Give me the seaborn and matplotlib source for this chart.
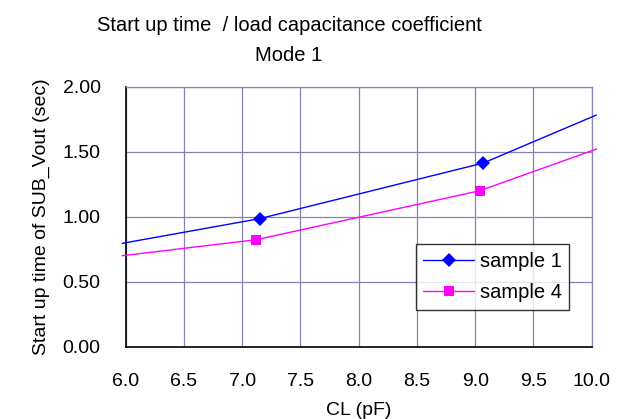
import matplotlib
matplotlib.use("Agg")
import matplotlib.pyplot as plt
import seaborn as sns
import pandas as pd
from matplotlib.lines import Line2D

sns.set_style("white")
plt.rcParams['font.family'] = ['Liberation Sans', 'DejaVu Sans']
plt.rcParams['text.color'] = 'black'
plt.rcParams['xtick.color'] = 'black'
plt.rcParams['ytick.color'] = 'black'
plt.rcParams['axes.labelcolor'] = 'black'

cl_s1 = [5.97, 7.15, 9.07, 10.04]
t_s1 = [0.795, 0.985, 1.413, 1.782]
cl_s4 = [5.97, 7.12, 9.04, 10.04]
t_s4 = [0.70, 0.823, 1.20, 1.52]
series = ["sample 1", "sample 4"]
x_ticks = [6.0, 6.5, 7.0, 7.5, 8.0, 8.5, 9.0, 9.5, 10.0]
y_ticks = [0.0, 0.5, 1.0, 1.5, 2.0]

df = pd.DataFrame({
    "CL": cl_s1 + cl_s4,
    "t": t_s1 + t_s4,
    "series": [series[0]] * len(cl_s1) + [series[1]] * len(cl_s4),
})

colors = {"sample 1": "#0000FF", "sample 4": "#FF00FF"}
markers = {"sample 1": "D", "sample 4": "s"}
msizes = {"sample 1": 7.0, "sample 4": 6.5}

W, H = 629, 419
fig = plt.figure(figsize=(W / 100, H / 100), dpi=100)
ax = fig.add_axes([125.7 / W, 1 - 346.7 / H, 466 / W, 260 / H])

for name in series:
    sub = df[df["series"] == name]
    sns.lineplot(data=sub, x="CL", y="t", ax=ax, color=colors[name], lw=1.0,
                 marker=markers[name], markersize=msizes[name], markevery=[1, 2],
                 markeredgewidth=0, legend=False, sort=True, clip_on=False, zorder=3)

FS = 14
ax.set_xlim(6.0, 10.0)
ax.set_ylim(0.0, 2.0)
ax.set_xticks(x_ticks)
ax.set_yticks(y_ticks)
ax.set_xticklabels([f"{v:.1f}" for v in x_ticks], fontsize=FS)
ax.set_yticklabels([f"{v:.2f}" for v in y_ticks], fontsize=FS)
ax.grid(True, color="#8484B4", lw=0.9)
ax.set_axisbelow(True)
for s in ["top", "right"]:
    ax.spines[s].set_color("#8484B4")
    ax.spines[s].set_linewidth(0.9)
for s in ["left", "bottom"]:
    ax.spines[s].set_color("black")
    ax.spines[s].set_linewidth(1.2)
ax.tick_params(axis="both", direction="in", length=5, color="black", width=1)
ax.tick_params(axis="x", pad=19)
ax.tick_params(axis="y", pad=18)

ax.set_xlabel("CL (pF)", fontsize=FS, labelpad=8.5)
ax.set_ylabel("Start up time of SUB_Vout (sec)", fontsize=FS, labelpad=9)
fig.text(289 / W, 1 - 16 / H, "Start up time  / load capacitance coefficient\nMode 1",
         ha="center", va="top", fontsize=14.5, linespacing=1.72)

handles = [Line2D([0], [0], color=colors[n], lw=1.0, marker=markers[n],
                  markersize=msizes[n], markeredgewidth=0) for n in series]
leg = ax.legend(handles, series, loc="upper left",
                bbox_to_anchor=((415.7 - 125.7) / 466, 1 - (244.3 - 86.7) / 260),
                frameon=True, fancybox=False, fontsize=14.5, handlelength=2.5,
                borderaxespad=0, borderpad=0.38, labelspacing=0.6, handletextpad=0.3)
leg.get_frame().set_edgecolor("black")
leg.get_frame().set_linewidth(1.0)

fig.savefig("out.png", dpi=100)
